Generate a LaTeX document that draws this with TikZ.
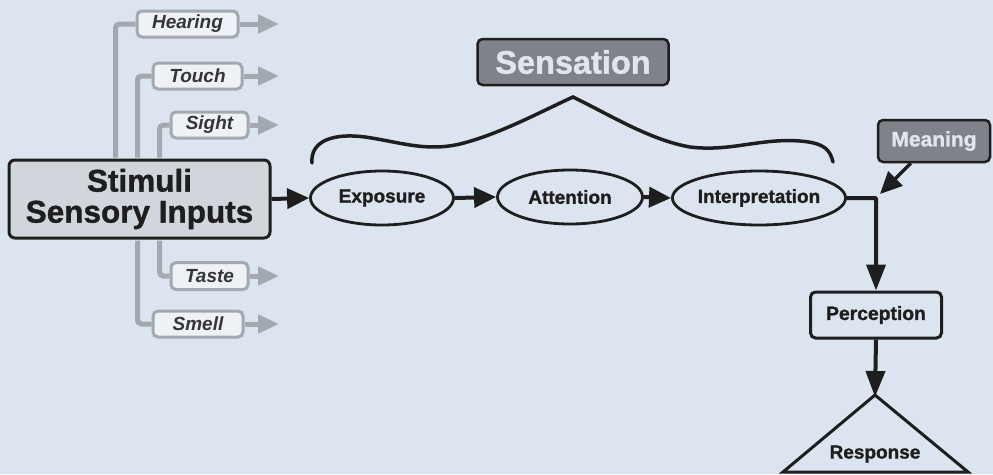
\documentclass[tikz,border=0pt]{standalone}
\usepackage{fontspec}
\setmainfont{Liberation Sans}[BoldFeatures={FakeBold=1.2}]
\usetikzlibrary{arrows.meta,shapes.geometric}
\pgfdeclarelayer{background}
\pgfsetlayers{background,main}
\definecolor{bg}{HTML}{DCE4EF}
\definecolor{stimfill}{HTML}{D1D6DD}
\definecolor{glin}{HTML}{A3A9B0}
\definecolor{gbox}{HTML}{EEF1F5}
\definecolor{dbox}{HTML}{7F8389}
\definecolor{dtext}{HTML}{E2E6EC}
\definecolor{ink}{HTML}{1E1E1E}
\tikzset{
  gl/.style={draw=glin,line width=5pt,rounded corners=4pt},
  garr/.style={draw=glin,line width=5pt,-{Triangle[length=21pt,width=18pt]}},
  sense/.style={draw=glin,line width=3pt,fill=gbox,rounded corners=5pt,inner sep=0pt,
    text=ink!90,font=\fontsize{19}{20}\selectfont\bfseries\itshape},
  blk/.style={draw=ink,line width=4pt,-{Triangle[length=22pt,width=20pt]}},
  ell/.style={draw=ink,line width=2.8pt,ellipse,inner sep=0pt,minimum width=145pt,minimum height=54pt,
    text=ink,font=\fontsize{19}{20}\selectfont\bfseries},
  darkbox/.style={draw=ink,line width=2.5pt,fill=dbox,rounded corners=5pt,inner sep=0pt,text=dtext},
  stimbox/.style={draw=ink,line width=3pt,fill=stimfill,rounded corners=6pt,minimum width=261pt,minimum height=78pt,
    inner sep=0pt,align=center,text=ink,font=\fontsize{31.5}{31}\selectfont\bfseries},
}
\begin{document}
\begin{tikzpicture}[x=1pt,y=-1pt]
\useasboundingbox (0,0) rectangle (993,474);
\begin{pgfonlayer}{background}
\fill[bg] (0,0) rectangle (993,474);
\end{pgfonlayer}

% Stimuli box
\node[stimbox] (stim) at (139.5,199) {Stimuli\\Sensory Inputs};

% Sense boxes
\node[sense,minimum width=101pt,minimum height=26pt] (hear) at (187.5,24) {Hearing};
\node[sense,minimum width=89pt,minimum height=26pt] (touch) at (197.5,76) {Touch};
\node[sense,minimum width=77pt,minimum height=26pt] (sight) at (209.5,125) {Sight};
\node[sense,minimum width=77pt,minimum height=27pt] (taste) at (209.5,276) {Taste};
\node[sense,minimum width=90pt,minimum height=26pt] (smell) at (198,324) {Smell};

% gray connectors behind the boxes
\begin{pgfonlayer}{background}
\draw[gl] ([xshift=108pt,yshift=1pt]stim.north west) |- (hear.west);
\draw[gl] ([xshift=130pt,yshift=1pt]stim.north west) |- (touch.west);
\draw[gl] ([xshift=152pt,yshift=1pt]stim.north west) |- (sight.west);
\draw[gl] ([xshift=152pt,yshift=-1pt]stim.south west) |- (taste.west);
\draw[gl] ([xshift=130pt,yshift=-1pt]stim.south west) |- (smell.west);
\end{pgfonlayer}

\coordinate (hearE) at (279,24);
\coordinate (touchE) at (279,76);
\coordinate (sightE) at (279,125);
\coordinate (tasteE) at (279,276);
\coordinate (smellE) at (279,324);
\draw[garr] (hear.east) -- (hearE);
\draw[garr] (touch.east) -- (touchE);
\draw[garr] (sight.east) -- (sightE);
\draw[garr] (taste.east) -- (tasteE);
\draw[garr] (smell.east) -- (smellE);

% process ellipses
\node[ell,minimum width=143pt] (expo) at (382,198) {Exposure};
\node[ell,minimum width=145pt] (att) at (570,197) {Attention};
\node[ell,minimum width=147pt] (interp) at (759,198) {Interpretation};

\draw[blk] (stim.east) -- (expo.west);
\draw[blk] (expo.east) -- (att.west);
\draw[blk] (att.east) -- (interp.west);

% Sensation
\node[darkbox,minimum width=191pt,minimum height=46pt,font=\fontsize{32.5}{34}\selectfont\bfseries] (sens) at (573,62) {Sensation};
\draw[ink,line width=3.5pt,line cap=round,line join=miter]
  (312,163) .. controls (310,140) and (335,133) .. (365,137)
  .. controls (400,142) and (425,152) .. (460,144)
  .. controls (500,134) and (540,112) .. (573,97)
  .. controls (610,115) and (650,140) .. (690,147)
  .. controls (730,152) and (760,138) .. (800,141)
  .. controls (825,143) and (830,150) .. (833,162);

% Meaning
\node[darkbox,minimum width=112pt,minimum height=42pt,font=\fontsize{21}{23}\selectfont\bfseries] (mean) at (934,141) {Meaning};
\coordinate (mtip) at (880,194);
\draw[blk,line width=3.5pt] ([xshift=34pt]mean.south west) -- (mtip);

% Perception
\node[draw=ink,line width=3pt,rounded corners=5pt,minimum width=131pt,minimum height=46pt,inner sep=0pt,
  text=ink,font=\fontsize{19.3}{20}\selectfont\bfseries] (perc) at (876,315) {Perception};
\draw[blk,-{Triangle[length=26pt,width=19pt]},rounded corners=1pt] (interp.east) -| (perc.north);

% Response triangle
\coordinate (apex) at (875,395);
\draw[ink,line width=3pt,line join=miter] (apex) -- (968,472) -- (783,472) -- cycle;
\node[text=ink,font=\fontsize{19}{20}\selectfont\bfseries] (resp) at (875,454) {Response};
\draw[blk,-{Triangle[length=26pt,width=19pt]}] (perc.south) -- ([yshift=-2pt]apex);
\end{tikzpicture}
\end{document}
